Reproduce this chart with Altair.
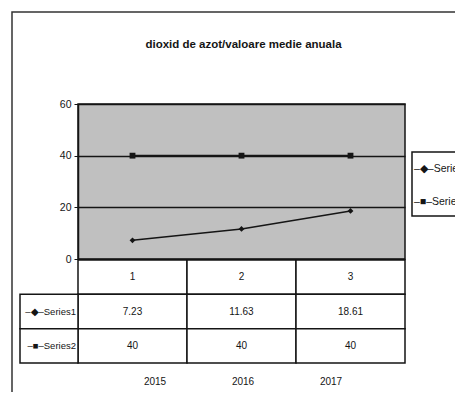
import altair as alt
import pandas as pd

# ---- data ----
categories = ["1", "2", "3"]
years = ["2015", "2016", "2017"]
series_names = ["Series1", "Series2"]
series1 = [7.23, 11.63, 18.61]
series2 = [40, 40, 40]
series1_labels = ["7.23", "11.63", "18.61"]
series2_labels = ["40", "40", "40"]
row_keys = ["hdr", "Series1", "Series2"]
row_label_text = ["\u2013\u25c6\u2013Series1", "\u2013\u25a0\u2013Series2"]
title_text = "dioxid de azot/valoare medie anuala"
y_ticks = [0, 20, 40, 60]

FONT = "Liberation Sans, Arial, sans-serif"
INK = "#151515"
W, H = 327, 155

line_df = pd.DataFrame({
    "cat": categories * 2,
    "value": series1 + series2,
    "series": ["Series1"] * 3 + ["Series2"] * 3,
})

cells_df = pd.DataFrame({
    "row": ["hdr"] * 3 + ["Series1"] * 3 + ["Series2"] * 3,
    "cat": categories * 3,
    "label": categories + series1_labels + series2_labels,
})

rowlab_df = pd.DataFrame({"row": series_names, "label": row_label_text})
legend_df = pd.DataFrame({"series": series_names, "label": row_label_text})
years_df = pd.DataFrame({"year": years})
one = pd.DataFrame({"t": [title_text]})

x_enc = alt.X("cat:N", scale=alt.Scale(domain=categories, paddingInner=0, paddingOuter=0), axis=None)
y_enc = alt.Y(
    "value:Q",
    scale=alt.Scale(domain=[0, 60], nice=False),
    axis=alt.Axis(values=y_ticks, grid=True, gridColor=INK, gridWidth=1.3,
                  domainColor=INK, domainWidth=1.5, tickColor=INK, tickSize=4,
                  labelFont=FONT, labelFontSize=10.5, labelColor=INK, labelPadding=3,
                  title=None),
)

lines = alt.Chart(line_df).mark_line(color=INK, strokeWidth=1.6).encode(
    x=x_enc, y=y_enc, detail="series:N")
points = alt.Chart(line_df).mark_point(filled=True, color=INK, size=34, opacity=1).encode(
    x=x_enc, y=y_enc,
    shape=alt.Shape("series:N", scale=alt.Scale(domain=series_names, range=["diamond", "square"]), legend=None))
main = alt.layer(lines, points)

ty = alt.Y("row:N", scale=alt.Scale(domain=row_keys, range=[156, 259], paddingInner=0, paddingOuter=0), axis=None)
tx = alt.X("cat:N", scale=alt.Scale(domain=categories, paddingInner=0, paddingOuter=0), axis=None)
cell_rects = alt.Chart(cells_df).mark_rect(fill="white", stroke=INK, strokeWidth=1.5).encode(x=tx, y=ty)
cell_text = alt.Chart(cells_df).mark_text(font=FONT, fontSize=10, color=INK).encode(x=tx, y=ty, text="label:N")
table = alt.layer(cell_rects, cell_text)

ry = alt.Y("row:N", scale=alt.Scale(domain=row_keys, range=[156, 259], paddingInner=0, paddingOuter=0), axis=None)
row_rects = alt.Chart(rowlab_df).mark_rect(fill="white", stroke=INK, strokeWidth=1.5).encode(
    x=alt.value(-58), x2=alt.value(0), y=ry)
row_text = alt.Chart(rowlab_df).mark_text(font=FONT, fontSize=9.5, color=INK, align="right").encode(
    x=alt.value(-2), y=ry, text="label:N")
rowlabels = alt.layer(row_rects, row_text)

year_text = alt.Chart(years_df).mark_text(font=FONT, fontSize=10, color=INK).encode(
    x=alt.X("year:N", scale=alt.Scale(type="point", domain=years, range=[77, 253], padding=0), axis=None),
    y=alt.value(278), text="year:N")

leg_box = alt.Chart(one).mark_rect(fill="white", stroke=INK, strokeWidth=1.5).encode(
    x=alt.value(334), x2=alt.value(500), y=alt.value(48), y2=alt.value(112))
leg_text = alt.Chart(legend_df).mark_text(font=FONT, fontSize=10.5, color=INK, align="left").encode(
    x=alt.value(336),
    y=alt.Y("series:N", scale=alt.Scale(type="point", domain=series_names, range=[65, 98], padding=0), axis=None),
    text="label:N")
legend = alt.layer(leg_box, leg_text)

frame = alt.Chart(one).mark_rect(fill=None, stroke="#333", strokeWidth=1.5).encode(
    x=alt.value(-66), x2=alt.value(600), y=alt.value(-92), y2=alt.value(600))
title = alt.Chart(one).mark_text(font=FONT, fontSize=11.5, fontWeight="bold", color=INK).encode(
    x=alt.value(W / 2 + 2), y=alt.value(-59), text="t:N")

chart = alt.layer(frame, title, main, table, rowlabels, year_text, legend).resolve_scale(
    x="independent", y="independent", shape="independent"
).properties(
    width=W, height=H,
    autosize=alt.AutoSizeParams(type="none"),
    padding={"left": 70, "top": 96, "right": 50, "bottom": 133},
).configure_view(fill="#c0c0c0", stroke=INK, strokeWidth=1.5)

chart.save("out.html", embed_options={"renderer": "svg", "actions": False})
